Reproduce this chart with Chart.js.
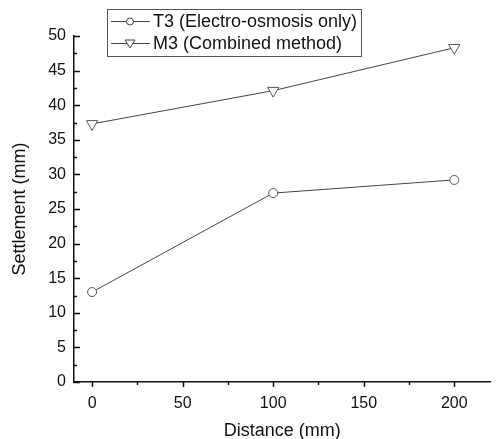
<!DOCTYPE html>
<html>
<head>
<meta charset="utf-8">
<script src="https://cdn.jsdelivr.net/npm/chart.js@4/dist/chart.umd.min.js"></script>
<style>
  html, body { margin: 0; padding: 0; background: #fff; }
  #wrap { width: 498px; height: 439px; position: relative; }
</style>
</head>
<body>
<div id="wrap"><canvas id="myChart" width="498" height="439"></canvas></div>
<script>
// values
const distances = [0, 100, 200];
const t3Settlement = [13.0, 27.3, 29.2];
const m3Settlement = [37.3, 42.1, 48.3];
const seriesLabels = ['T3 (Electro-osmosis only)', 'M3 (Combined method)'];
const xTickValues = [0, 50, 100, 150, 200];
const yTickValues = [0, 5, 10, 15, 20, 25, 30, 35, 40, 45, 50];

const lineColor = '#444';
const font = 'Arial, "Liberation Sans", sans-serif';

// minor + major ticks (x outward, y inward like the original)
const tickMarks = {
    id: 'tickMarks',
    afterDraw(chart) {
        const c = chart.ctx;
        const xs = chart.scales.x, ys = chart.scales.y;
        c.save();
        c.strokeStyle = '#111';
        c.lineWidth = 1.5;
        for (let v = 0; v <= 200; v += 25) {
            const px = Math.round(xs.getPixelForValue(v)) + 0.5;
            const len = v % 50 === 0 ? 5 : 3;
            c.beginPath();
            c.moveTo(px, ys.bottom);
            c.lineTo(px, ys.bottom + len);
            c.stroke();
        }
        for (let v = 0; v <= 50; v += 2.5) {
            const py = Math.round(ys.getPixelForValue(v)) + 0.5;
            const len = v % 5 === 0 ? 6 : 3;
            c.beginPath();
            c.moveTo(xs.left, py);
            c.lineTo(xs.left + len, py);
            c.stroke();
        }
        c.restore();
    }
};

// boxed legend in top left like origin plots
const boxLegend = {
    id: 'boxLegend',
    afterDraw(chart) {
        const c = chart.ctx;
        const x0 = 107.5, y0 = 9.5, w = 254, h = 47;
        c.save();
        c.strokeStyle = '#555';
        c.lineWidth = 1;
        c.strokeRect(x0, y0, w, h);
        c.font = '18px ' + font;
        c.fillStyle = '#111';
        c.textBaseline = 'middle';
        const rows = [21, 43];
        chart.data.datasets.forEach(function(ds, i) {
            const y = rows[i] + 0.5;
            c.strokeStyle = lineColor;
            c.lineWidth = 1;
            c.beginPath();
            c.moveTo(111, y);
            c.lineTo(150, y);
            c.stroke();
            c.fillStyle = '#fff';
            c.beginPath();
            if (i === 0) {
                c.arc(130, y, 3.5, 0, Math.PI * 2);
            } else {
                c.moveTo(125, y - 3.5);
                c.lineTo(135, y - 3.5);
                c.lineTo(130, y + 4.5);
                c.closePath();
            }
            c.fill();
            c.stroke();
            c.fillStyle = '#111';
            c.fillText(ds.label, 153, rows[i] + 1);
        });
        c.restore();
    }
};

const ctx = document.getElementById('myChart');
const settlementChart = new Chart(ctx, {
    type: 'scatter',
    data: {
        datasets: [{
            label: seriesLabels[0],
            data: distances.map((d, i) => ({x: d, y: t3Settlement[i]})),
            showLine: true,
            borderColor: lineColor,
            borderWidth: 1,
            pointStyle: 'circle',
            pointRadius: 4.5,
            pointBorderColor: '#555',
            pointBackgroundColor: '#fff',
            pointBorderWidth: 1
        }, {
            label: seriesLabels[1],
            data: distances.map((d, i) => ({x: d, y: m3Settlement[i]})),
            showLine: true,
            borderColor: lineColor,
            borderWidth: 1,
            pointStyle: 'triangle',
            rotation: 180,
            pointRadius: 6.5,
            pointBorderColor: '#555',
            pointBackgroundColor: '#fff',
            pointBorderWidth: 1
        }]
    },
    options: {
        responsive: false,
        animation: false,
        layout: { padding: { left: 0, top: 36, right: 4, bottom: 0 } },
        plugins: { legend: { display: false }, tooltip: { enabled: false } },
        scales: {
            x: {
                type: 'linear',
                min: -10,
                max: 220,
                afterBuildTicks: s => { s.ticks = xTickValues.map(v => ({value: v})); },
                afterFit: s => { s.height = 57; },
                grid: { drawOnChartArea: false, drawTicks: false },
                border: { color: '#111', width: 1.5 },
                ticks: { padding: 12, color: '#111', font: { family: font, size: 16 }, maxRotation: 0 },
                title: { display: true, text: 'Distance (mm)', color: '#111', font: { family: font, size: 18 }, padding: { top: 0, bottom: -3 } }
            },
            y: {
                min: 0,
                max: 50,
                afterBuildTicks: s => { s.ticks = yTickValues.map(v => ({value: v})); },
                afterFit: s => { s.width = 74; },
                grid: { drawOnChartArea: false, drawTicks: false },
                border: { color: '#111', width: 1.5 },
                ticks: { padding: 8, color: '#111', font: { family: font, size: 16 } },
                title: { display: true, text: 'Settlement (mm)', color: '#111', font: { family: font, size: 18 }, padding: 9 }
            }
        }
    },
    plugins: [tickMarks, boxLegend]
});
</script>
</body>
</html>
